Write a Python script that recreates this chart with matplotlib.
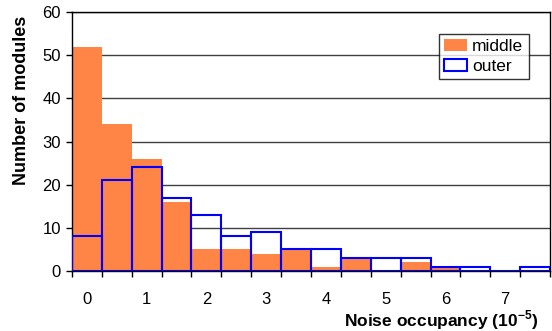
import numpy as np
import matplotlib
matplotlib.use("Agg")
import matplotlib.pyplot as plt
from matplotlib.ticker import NullFormatter

plt.rcParams['font.family'] = ['Liberation Sans', 'DejaVu Sans']
plt.rcParams['mathtext.fontset'] = 'custom'
plt.rcParams['mathtext.rm'] = 'Liberation Sans:bold'
plt.rcParams['mathtext.bf'] = 'Liberation Sans:bold'

# noise occupancy bins (units of 1e-5), width 0.5
bin_centers = np.arange(16) * 0.5
middle = [52, 34, 26, 16, 5, 5, 4, 5, 1, 3, 0, 2, 1, 0, 0, 0]
outer = [8, 21, 24, 17, 13, 8, 9, 5, 5, 3, 3, 3, 1, 1, 0, 1]
tick_labels = ['0', '1', '2', '3', '4', '5', '6', '7']

fig = plt.figure(figsize=(5.52, 3.31), dpi=100)
ax = fig.add_axes([0.1304, 0.1813, 0.8660, 0.7824])

ax.yaxis.grid(True, color='#404040', linewidth=1.0)
ax.set_axisbelow(True)

ax.bar(bin_centers, middle, width=0.5, color='#FF8547', linewidth=0,
       label='middle', zorder=2)
ax.bar(bin_centers, outer, width=0.5, facecolor='none', edgecolor='#0000FF',
       linewidth=1.5, label='outer', zorder=3)

ax.set_xlim(-0.25, 7.75)
ax.set_ylim(0, 60)
ax.set_yticks(np.arange(0, 61, 10))

# tick marks on bin edges, labels on integer values
ax.set_xticks(np.arange(16 + 1) * 0.5 - 0.25)
ax.xaxis.set_major_formatter(NullFormatter())
ax.set_xticks(np.arange(len(tick_labels)), minor=True)
ax.set_xticklabels(tick_labels, minor=True)
ax.tick_params(axis='x', which='major', length=4, width=1, direction='out')
ax.tick_params(axis='x', which='minor', length=0, pad=15, labelsize=12)
ax.tick_params(axis='y', length=4, width=1, direction='out', labelsize=12, pad=4)

for s in ax.spines.values():
    s.set_linewidth(1.0)
    s.set_color('black')

ax.set_ylabel('Number of modules', fontsize=13, fontweight='bold')
ax.yaxis.set_label_coords(-0.088, 0.66)
ax.set_xlabel(r'Noise occupancy (10$^{\mathbf{-5}}$)', fontsize=12.5,
              fontweight='bold')
ax.xaxis.set_label_coords(0.975, -0.19)
ax.xaxis.label.set_horizontalalignment('right')
ax.xaxis.label.set_verticalalignment('center')

leg = ax.legend(loc='upper right', bbox_to_anchor=(0.955, 0.917), fontsize=12.5,
                frameon=True, fancybox=False, borderpad=0.3, handlelength=1.3,
                handletextpad=0.3, labelspacing=0.3, borderaxespad=0)
leg.get_frame().set_edgecolor('black')
leg.get_frame().set_linewidth(1.0)

fig.savefig('out.png', dpi=100)
